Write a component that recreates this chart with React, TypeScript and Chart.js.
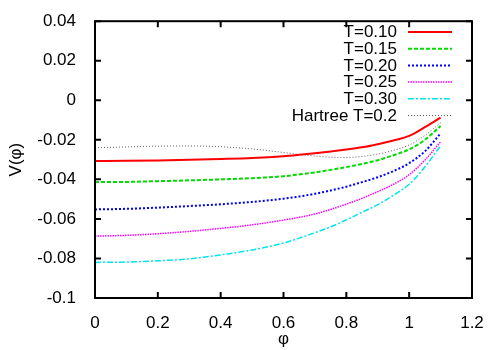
import { useEffect, useRef } from "react";
import { Chart, registerables } from "chart.js";

Chart.register(...registerables);

const phi = [0, 0.1, 0.2, 0.3, 0.4, 0.5, 0.6, 0.65, 0.7, 0.75, 0.8, 0.85, 0.9, 0.95, 1.0, 1.05, 1.1];

const t010 = [-0.0307, -0.0306, -0.0304, -0.0301, -0.0297, -0.0292, -0.0283, -0.0276, -0.0268, -0.0259, -0.0249, -0.0238, -0.0222, -0.0203, -0.018, -0.0136, -0.0088];
const t015 = [-0.0414, -0.0413, -0.0409, -0.0405, -0.04, -0.0394, -0.0384, -0.0375, -0.0365, -0.0352, -0.0338, -0.0322, -0.0303, -0.0278, -0.0248, -0.02, -0.013];
const t020 = [-0.0552, -0.0549, -0.0543, -0.0535, -0.0526, -0.0514, -0.0498, -0.0487, -0.0473, -0.0456, -0.0437, -0.0414, -0.0389, -0.0358, -0.0318, -0.0258, -0.0168];
const t025 = [-0.0687, -0.0683, -0.0675, -0.0663, -0.0648, -0.063, -0.0606, -0.0592, -0.0575, -0.0552, -0.0525, -0.0496, -0.0462, -0.0425, -0.0376, -0.0303, -0.021];
const t030 = [-0.082, -0.0818, -0.0812, -0.0802, -0.0782, -0.0757, -0.0722, -0.0697, -0.067, -0.064, -0.0605, -0.0566, -0.0528, -0.048, -0.0425, -0.0337, -0.023];
const hartree = [-0.024, -0.0236, -0.0232, -0.0231, -0.0235, -0.0246, -0.0264, -0.0274, -0.0282, -0.0288, -0.0289, -0.0284, -0.0272, -0.0253, -0.0226, -0.0178, -0.0113];

const labels = ["T=0.10", "T=0.15", "T=0.20", "T=0.25", "T=0.30", "Hartree T=0.2"];
const xTicks = [0, 0.2, 0.4, 0.6, 0.8, 1, 1.2];
const yTicks = [-0.1, -0.08, -0.06, -0.04, -0.02, 0, 0.02, 0.04];

const FONT = "Liberation Sans";
const FS = 17;

const frame = {
  id: "frame",
  afterDraw(chart: any) {
    const { ctx, chartArea: a, scales } = chart;
    const xs = scales.x;
    const ys = scales.y;
    ctx.save();
    ctx.strokeStyle = "#000";
    ctx.lineWidth = 2;
    ctx.setLineDash([]);
    ctx.strokeRect(a.left, a.top, a.right - a.left, a.bottom - a.top);
    const tl = 6;
    ctx.beginPath();
    xTicks.forEach((v) => {
      const px = xs.getPixelForValue(v);
      ctx.moveTo(px, a.bottom);
      ctx.lineTo(px, a.bottom - tl);
      ctx.moveTo(px, a.top);
      ctx.lineTo(px, a.top + tl);
    });
    yTicks.forEach((v) => {
      const py = ys.getPixelForValue(v);
      ctx.moveTo(a.left, py);
      ctx.lineTo(a.left + tl, py);
      ctx.moveTo(a.right, py);
      ctx.lineTo(a.right - tl, py);
    });
    ctx.stroke();

    // legend
    ctx.font = `${FS}px "${FONT}"`;
    ctx.textAlign = "right";
    ctx.textBaseline = "middle";
    chart.data.datasets.forEach((ds: any, i: number) => {
      const y = 32 + i * 16.7;
      ctx.fillStyle = "#000";
      ctx.fillText(ds.label, 397, y + 0.5);
      ctx.strokeStyle = ds.borderColor;
      ctx.lineWidth = ds.borderWidth;
      ctx.setLineDash(ds.borderDash || []);
      ctx.beginPath();
      ctx.moveTo(408, y);
      ctx.lineTo(452, y);
      ctx.stroke();
    });
    ctx.restore();
  },
};

export default function App() {
  const ref = useRef<HTMLCanvasElement>(null);
  useEffect(() => {
    document.body.style.margin = "0";
    const mk = (vals: number[]) => phi.map((x, i) => ({ x, y: vals[i] }));
    const styles = [
      { c: "#ff0000", w: 2, d: [] as number[] },
      { c: "#00dd00", w: 2, d: [4, 2] },
      { c: "#0000ff", w: 2, d: [2, 2] },
      { c: "#ff00ff", w: 1.5, d: [1.5, 1] },
      { c: "#00e5ee", w: 1.5, d: [6, 2, 2, 2] },
      { c: "#606060", w: 1, d: [1, 2] },
    ];
    const series = [t010, t015, t020, t025, t030, hartree];
    const tickFont = { family: FONT, size: FS };
    const chart = new Chart(ref.current!, {
      type: "scatter",
      data: {
        datasets: series.map((s, i) => ({
          label: labels[i],
          data: mk(s),
          showLine: true,
          borderColor: styles[i].c,
          backgroundColor: styles[i].c,
          borderWidth: styles[i].w,
          borderDash: styles[i].d,
          pointRadius: 0,
          cubicInterpolationMode: "monotone",
          fill: false,
        })),
      },
      options: {
        animation: false,
        responsive: false,
        events: [],
        layout: { padding: { top: 20, right: 28, left: 0, bottom: 0 } },
        plugins: { legend: { display: false }, tooltip: { enabled: false } },
        scales: {
          x: {
            type: "linear",
            min: 0,
            max: 1.2,
            afterBuildTicks: (s: any) => {
              s.ticks = xTicks.map((v) => ({ value: v }));
            },
            afterFit: (s: any) => {
              s.height = 52;
            },
            grid: { display: false },
            border: { display: false },
            ticks: {
              color: "#000",
              font: tickFont,
              padding: 7,
              maxRotation: 0,
              autoSkip: false,
              callback: (v: any) => String(Math.round(Number(v) * 10) / 10),
            },
            title: {
              display: true,
              text: "φ",
              color: "#000",
              font: tickFont,
              padding: { top: 0, bottom: 0 },
            },
          },
          y: {
            type: "linear",
            min: -0.1,
            max: 0.04,
            afterBuildTicks: (s: any) => {
              s.ticks = yTicks.map((v) => ({ value: v }));
            },
            afterFit: (s: any) => {
              s.width = 95;
            },
            grid: { display: false },
            border: { display: false },
            ticks: {
              color: "#000",
              font: tickFont,
              padding: 11,
              autoSkip: false,
              callback: (v: any) => {
                const r = Math.round(Number(v) * 100) / 100;
                return r === 0 ? "0" : String(r);
              },
            },
            title: {
              display: true,
              text: "V(φ)",
              color: "#000",
              font: tickFont,
              padding: { top: 6, bottom: 0 },
            },
          },
        },
      },
      plugins: [frame],
    });
    return () => chart.destroy();
  }, []);
  return <canvas ref={ref} width={500} height={350} style={{ display: "block" }} />;
}
